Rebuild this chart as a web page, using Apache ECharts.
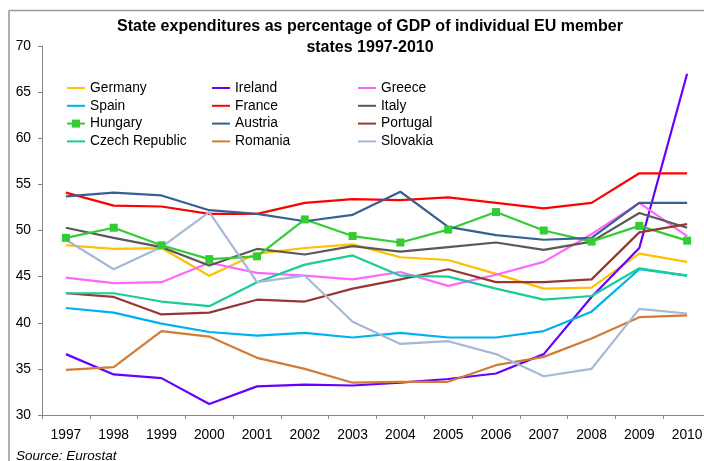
<!DOCTYPE html>
<html>
<head>
<meta charset="utf-8">
<script src="https://cdn.jsdelivr.net/npm/echarts@6/dist/echarts.min.js"></script>
<style>
  html, body { margin: 0; padding: 0; background: #fff; overflow: hidden; width: 704px; height: 461px; }
  /* the plot runs a little past the right edge of the page, so the drawing surface is wider */
  #chart { width: 720px; height: 461px; }
</style>
</head>
<body>
<div id="chart"></div>
<script>
// Years on the category axis
const years = ['1997','1998','1999','2000','2001','2002','2003','2004','2005','2006','2007','2008','2009','2010'];

// State expenditures, % of GDP
const germany  = [48.4, 48.0, 48.1, 45.1, 47.5, 48.1, 48.5, 47.1, 46.8, 45.3, 43.7, 43.8, 47.5, 46.6];
const ireland  = [36.6, 34.4, 34.0, 31.2, 33.1, 33.3, 33.2, 33.5, 33.9, 34.5, 36.6, 42.8, 48.1, 67.0];
const greece   = [44.9, 44.3, 44.4, 46.5, 45.4, 45.1, 44.7, 45.5, 44.0, 45.2, 46.6, 49.6, 53.0, 49.4];
const spain    = [41.6, 41.1, 39.9, 39.0, 38.6, 38.9, 38.4, 38.9, 38.4, 38.4, 39.1, 41.2, 45.8, 45.1];
const france   = [54.1, 52.7, 52.6, 51.8, 51.8, 53.0, 53.4, 53.3, 53.6, 53.0, 52.4, 53.0, 56.2, 56.2];
const italy    = [50.3, 49.2, 48.2, 46.2, 48.0, 47.4, 48.3, 47.7, 48.2, 48.7, 47.9, 48.8, 51.9, 50.3];
const hungary  = [49.2, 50.3, 48.4, 46.9, 47.2, 51.2, 49.4, 48.7, 50.1, 52.0, 50.0, 48.8, 50.5, 48.9];
const austria  = [53.7, 54.1, 53.8, 52.2, 51.8, 51.0, 51.7, 54.2, 50.4, 49.5, 49.0, 49.2, 53.0, 53.0];
const portugal = [43.2, 42.8, 40.9, 41.1, 42.5, 42.3, 43.7, 44.7, 45.8, 44.4, 44.4, 44.7, 49.8, 50.7];
const czech    = [43.2, 43.2, 42.3, 41.8, 44.4, 46.3, 47.3, 45.1, 45.0, 43.7, 42.5, 42.9, 45.9, 45.1];
const romania  = [34.9, 35.2, 39.1, 38.5, 36.2, 35.0, 33.5, 33.6, 33.6, 35.4, 36.3, 38.3, 40.6, 40.8];
const slovakia = [49.0, 45.8, 48.2, 52.0, 44.4, 45.1, 40.1, 37.7, 38.0, 36.6, 34.2, 35.0, 41.5, 41.0];

// Series names and colours, in legend (row-major) order
const countries = [
  { name: 'Germany',        data: germany,  color: '#FFC000' },
  { name: 'Ireland',        data: ireland,  color: '#6600FF' },
  { name: 'Greece',         data: greece,   color: '#FF66FF' },
  { name: 'Spain',          data: spain,    color: '#00B0F0' },
  { name: 'France',         data: france,   color: '#FF0000' },
  { name: 'Italy',          data: italy,    color: '#595959' },
  { name: 'Hungary',        data: hungary,  color: '#33CC33', marker: true },
  { name: 'Austria',        data: austria,  color: '#376092' },
  { name: 'Portugal',       data: portugal, color: '#953735' },
  { name: 'Czech Republic', data: czech,    color: '#1ACC99' },
  { name: 'Romania',        data: romania,  color: '#D07C36' },
  { name: 'Slovakia',       data: slovakia, color: '#A5B8D8' }
];

const yTicks = { min: 30, max: 70, step: 5 };

const FONT = 'Arial, "Liberation Sans", sans-serif';
const legendText = { fontFamily: FONT, fontSize: 13.8, color: '#000', lineHeight: 14 };

// Plain line icon for series without markers; Hungary keeps its square
function legendColumn(names, left) {
  return {
    orient: 'vertical',
    left: left,
    top: 81,
    padding: 0,
    itemGap: 3.8,
    itemWidth: 18,
    itemHeight: 10,
    textStyle: legendText,
    data: names.map(n => {
      const c = countries.find(k => k.name === n);
      return c.marker ? { name: n } : { name: n, itemStyle: { opacity: 0 } };
    })
  };
}

const chart = echarts.init(document.getElementById('chart'), null, { renderer: 'canvas' });

chart.setOption({
  animation: false,
  backgroundColor: '#fff',
  title: {
    text: 'State expenditures as percentage of GDP of individual EU member\nstates 1997-2010',
    left: 365,
    textAlign: 'center',
    top: 11,
    textStyle: { fontFamily: FONT, fontSize: 16, fontWeight: 'bold', color: '#000', lineHeight: 21 }
  },
  legend: [
    legendColumn(['Germany', 'Spain', 'Hungary', 'Czech Republic'], 66),
    legendColumn(['Ireland', 'France', 'Austria', 'Romania'], 211),
    legendColumn(['Greece', 'Italy', 'Portugal', 'Slovakia'], 357)
  ],
  grid: { left: 42, top: 46, width: 669, height: 369, containLabel: false },
  xAxis: {
    type: 'category',
    data: years,
    boundaryGap: true,
    axisLine: { lineStyle: { color: '#868686', width: 1 } },
    axisTick: { show: true, length: 4, inside: false, lineStyle: { color: '#868686' } },
    axisLabel: { margin: 13, fontFamily: FONT, fontSize: 13.8, color: '#000' },
    splitLine: { show: false }
  },
  yAxis: {
    type: 'value',
    min: yTicks.min,
    max: yTicks.max,
    interval: yTicks.step,
    axisLine: { show: true, lineStyle: { color: '#868686', width: 1 } },
    axisTick: { show: true, length: 4, lineStyle: { color: '#868686' } },
    axisLabel: { margin: 11, fontFamily: FONT, fontSize: 13.8, color: '#000' },
    splitLine: { show: false }
  },
  series: countries.map(c => ({
    name: c.name,
    type: 'line',
    data: c.data,
    color: c.color,
    lineStyle: { width: 2.2, color: c.color },
    symbol: c.marker ? 'rect' : 'none',
    symbolSize: 8,
    showSymbol: !!c.marker,
    itemStyle: { color: c.color },
    clip: false,
    emphasis: { disabled: true }
  })),
  graphic: [
    // chart frame (top and left edges)
    { type: 'line', shape: { x1: 9, y1: 10.5, x2: 720, y2: 10.5 }, style: { stroke: '#9a9a9a', lineWidth: 1.5 }, silent: true },
    { type: 'line', shape: { x1: 9, y1: 10, x2: 9, y2: 461 }, style: { stroke: '#b0b0b0', lineWidth: 2 }, silent: true },
    {
      type: 'text',
      left: 16,
      top: 449,
      style: { text: 'Source: Eurostat', font: 'italic 13.5px Arial, "Liberation Sans", sans-serif', fill: '#000' },
      silent: true
    }
  ]
});
</script>
</body>
</html>
